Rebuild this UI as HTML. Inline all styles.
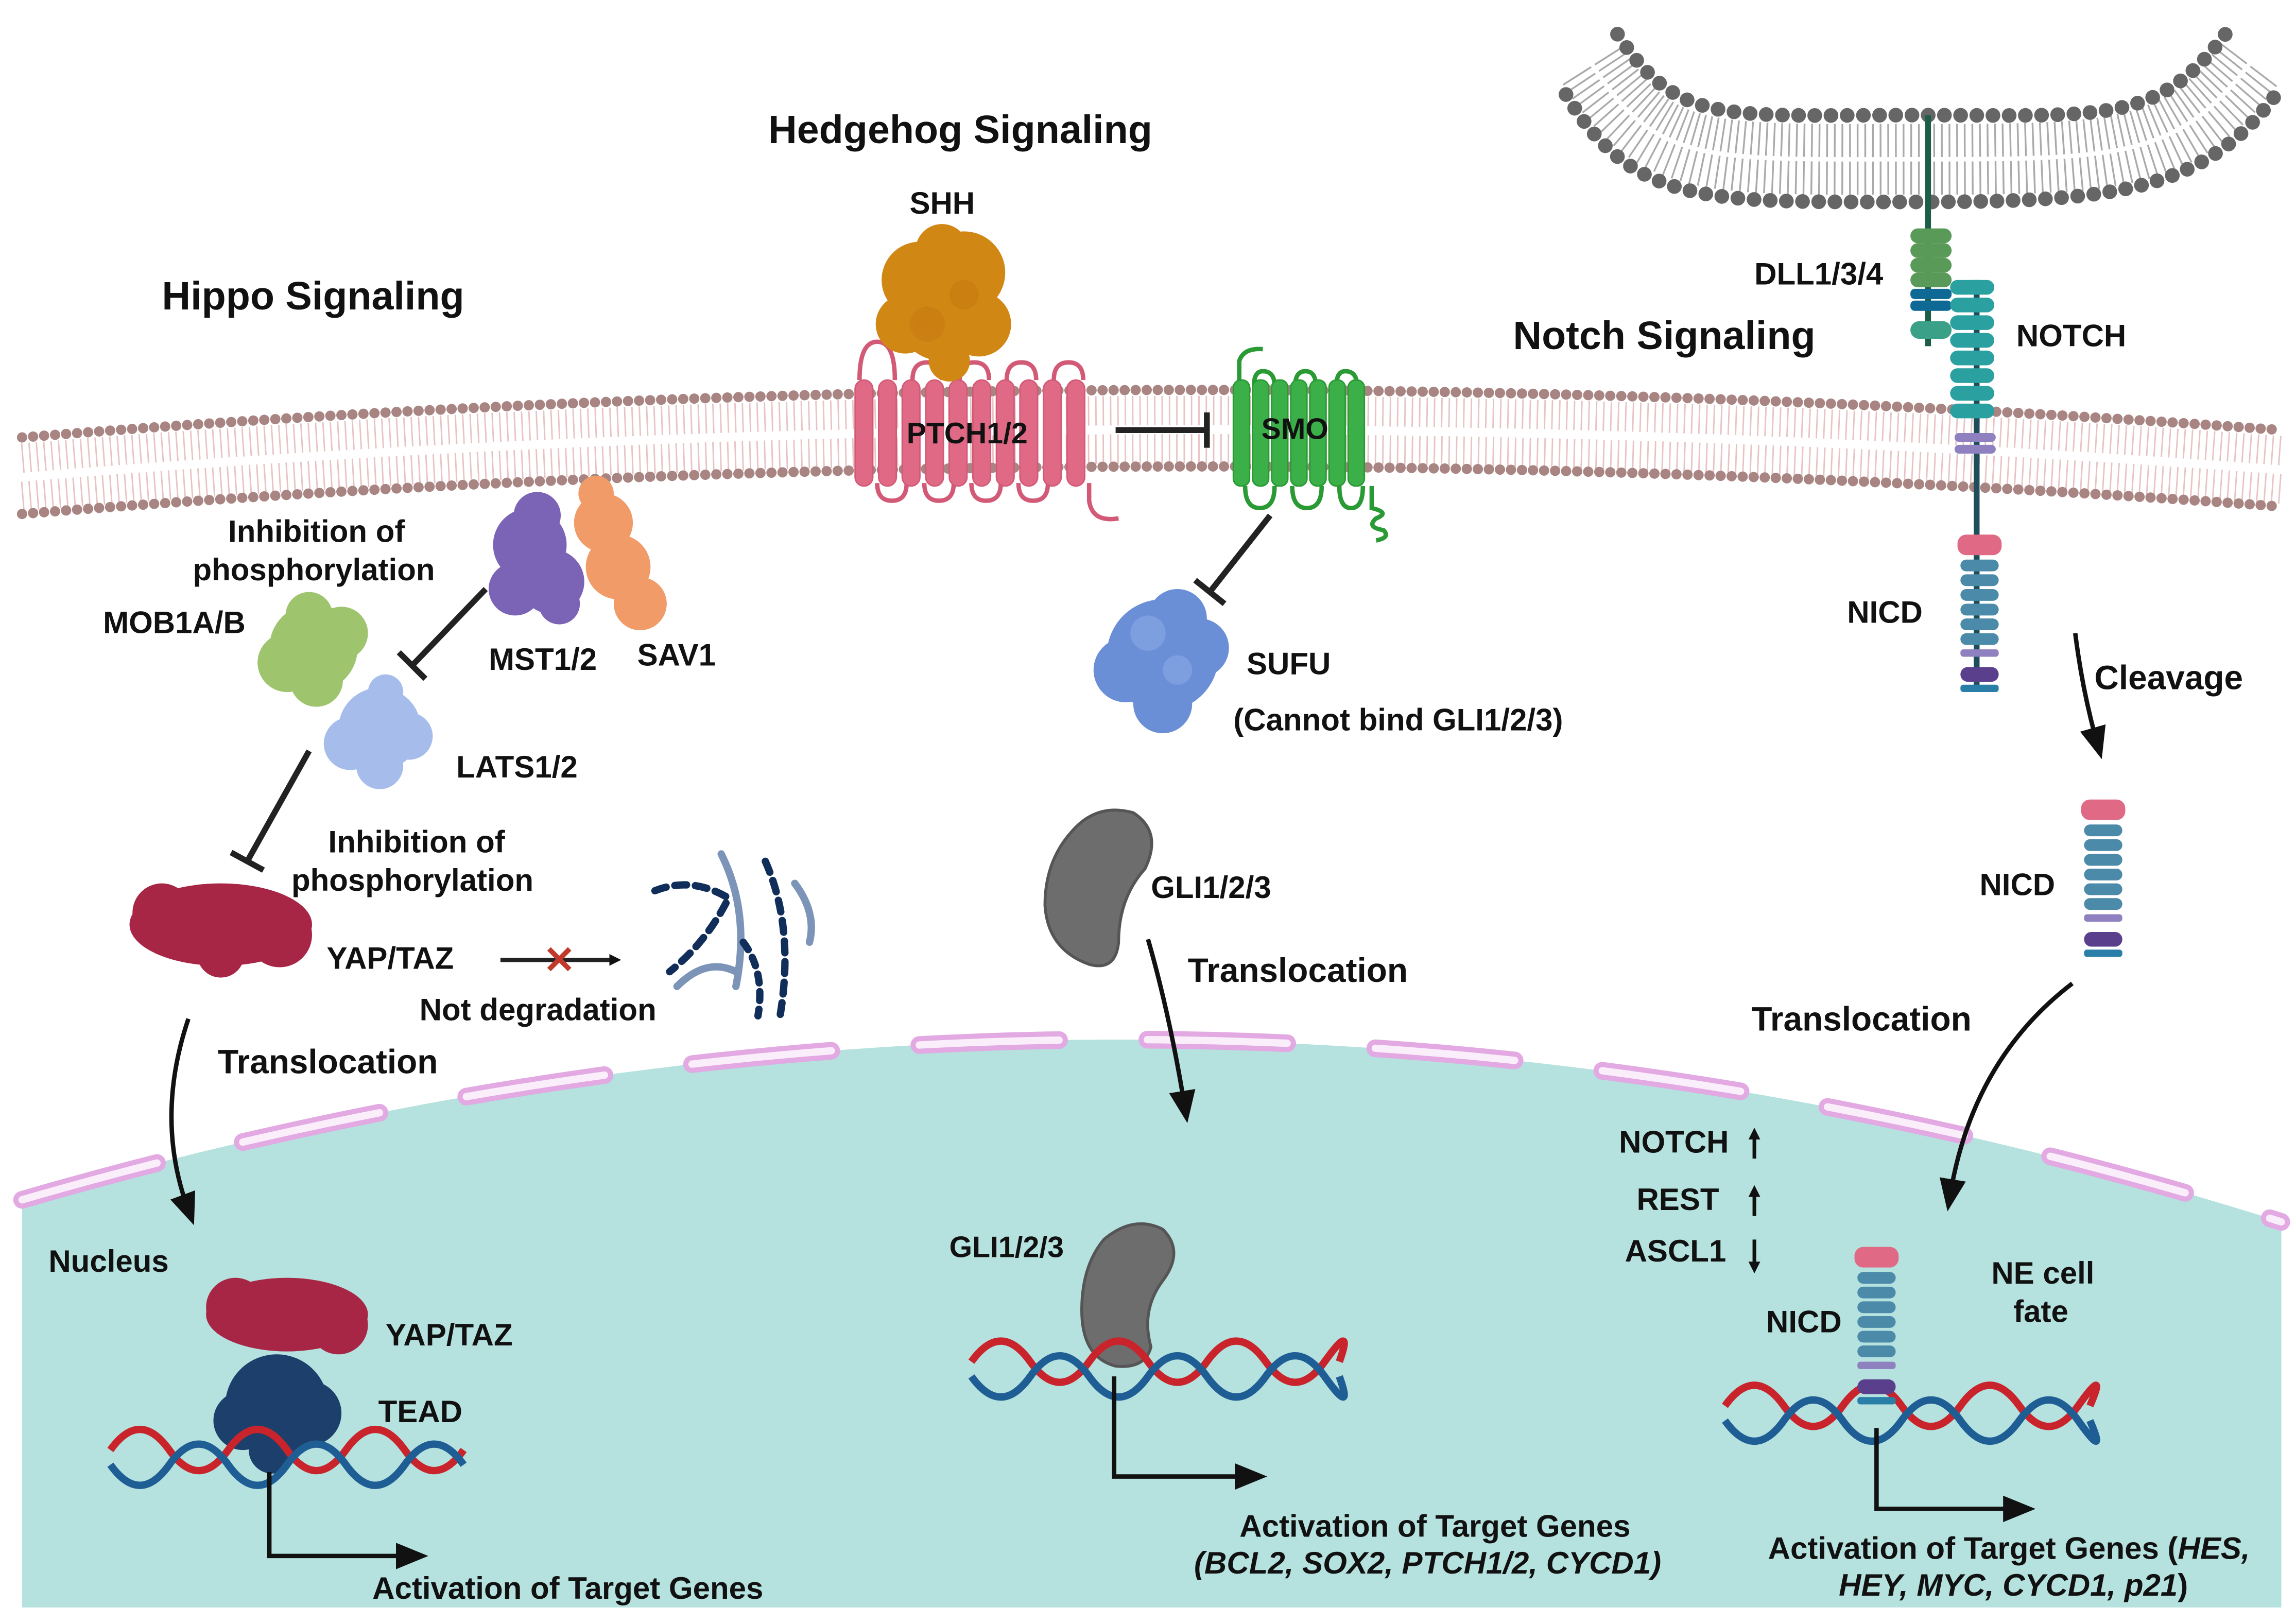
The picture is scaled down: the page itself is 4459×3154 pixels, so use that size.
<!DOCTYPE html>
<html><head><meta charset="utf-8"><style>
html,body{margin:0;padding:0;background:#fff}
svg{display:block}
text{font-family:"Liberation Sans",Arial,sans-serif;font-weight:bold;fill:#111}
</style></head><body>
<svg width="4459" height="3154" viewBox="0 0 1560 1103" xmlns="http://www.w3.org/2000/svg">
<defs>
<marker id="ah" markerWidth="8" markerHeight="8" refX="4" refY="4" orient="auto" markerUnits="userSpaceOnUse" viewBox="0 0 8 8"><path d="M0,0 L8,4 L0,8 z" fill="#111"/></marker>
<marker id="ah2" markerWidth="22" markerHeight="22" refX="11" refY="11" orient="auto" markerUnits="userSpaceOnUse" viewBox="0 0 22 22"><path d="M0,2 L22,11 L0,20 z" fill="#111"/></marker>
</defs>
<rect width="1560" height="1103" fill="#fff"/>

<path d="M15,815 Q790,590 1550,830 L1550,1092 L15,1092 Z" fill="#b5e1de"/>
<path d="M15,815 Q790,590 1550,830" fill="none" stroke="#e2a9e2" stroke-width="12" stroke-dasharray="95 60" stroke-linecap="round"/>
<path d="M15,815 Q790,590 1550,830" fill="none" stroke="#fbeefb" stroke-width="5" stroke-dasharray="95 60" stroke-linecap="round"/>

<g>
<path d="M15,311 Q780,249 1550,306" fill="none" stroke="#e8c3c3" stroke-width="20" stroke-dasharray="1 4"/>
<path d="M15,337 Q780,275 1550,332" fill="none" stroke="#e8c3c3" stroke-width="20" stroke-dasharray="1 4"/>
<path d="M15,297 Q780,235 1550,292" fill="none" stroke="#a88582" stroke-width="7" stroke-dasharray="0 7.5" stroke-linecap="round"/>
<path d="M15,349 Q780,287 1550,344" fill="none" stroke="#a88582" stroke-width="7" stroke-dasharray="0 7.5" stroke-linecap="round"/>
</g>

<g>
<path d="M1082,44 C1125,112 1160,108 1300,108 C1440,108 1480,108 1530,41" fill="none" stroke="#aaa" stroke-width="48" stroke-dasharray="1.2 4"/>
<path d="M1082,44 C1125,112 1160,108 1300,108 C1440,108 1480,108 1530,41" fill="none" stroke="#fff" stroke-width="3"/>
<path d="M1099,23 C1140,85 1170,78 1300,78 C1430,78 1465,85 1512,23" fill="none" stroke="#666" stroke-width="10" stroke-dasharray="0 11" stroke-linecap="round"/>
<path d="M1064,64 C1110,140 1160,137 1300,137 C1440,137 1500,130 1550,59" fill="none" stroke="#666" stroke-width="10" stroke-dasharray="0 11" stroke-linecap="round"/>
</g>

<text x="522" y="97" font-size="27">Hedgehog Signaling</text>
<text x="110" y="210" font-size="27">Hippo Signaling</text>
<text x="1028" y="237" font-size="27">Notch Signaling</text>

<g fill="#e06a85" stroke="#d35a77">
<path d="M584,258 Q584,232 596,232 Q608,232 608,258 M620,258 Q620,246 630,246 Q640,246 640,258 M652,258 Q652,246 662,246 Q672,246 672,258 M684,258 Q684,246 694,246 Q704,246 704,258 M716,258 Q716,246 726,246 Q736,246 736,258" fill="none" stroke-width="3"/>
<path d="M596,328 Q596,340 606,340 Q616,340 616,328 M628,328 Q628,340 638,340 Q648,340 648,328 M660,328 Q660,340 670,340 Q680,340 680,328 M692,328 Q692,340 702,340 Q712,340 712,328 M740,328 L740,340 Q742,355 760,352" fill="none" stroke-width="3"/>
<rect x="581" y="258" width="12" height="72" rx="6"/><rect x="597" y="258" width="12" height="72" rx="6"/>
<rect x="613" y="258" width="12" height="72" rx="6"/><rect x="629" y="258" width="12" height="72" rx="6"/>
<rect x="645" y="258" width="12" height="72" rx="6"/><rect x="661" y="258" width="12" height="72" rx="6"/>
<rect x="677" y="258" width="12" height="72" rx="6"/><rect x="693" y="258" width="12" height="72" rx="6"/>
<rect x="709" y="258" width="12" height="72" rx="6"/><rect x="725" y="258" width="12" height="72" rx="6"/>
</g>
<g fill="#d08714">
<circle cx="625" cy="190" r="26"/><circle cx="655" cy="185" r="28"/><circle cx="640" cy="215" r="30"/><circle cx="615" cy="220" r="20"/><circle cx="665" cy="220" r="22"/><circle cx="640" cy="170" r="18"/><circle cx="645" cy="245" r="14"/>
</g>
<g fill="#c97a10" opacity=".6"><circle cx="630" cy="220" r="12"/><circle cx="655" cy="200" r="10"/></g>
<text x="618" y="145" font-size="21">SHH</text>
<text x="616" y="301" font-size="20">PTCH1/2</text>

<line x1="758" y1="292" x2="820" y2="292" stroke="#222" stroke-width="4"/>
<line x1="820" y1="280" x2="820" y2="304" stroke="#222" stroke-width="4"/>

<g fill="#3bb048" stroke="#2a9a35">
<path d="M842,260 L842,245 Q845,236 858,237 M852,262 Q852,252 858,252 Q866,252 866,262 M880,262 Q880,252 887,252 Q894,252 894,262 M908,262 Q908,252 914,252 Q922,252 922,262" fill="none" stroke-width="3"/>
<path d="M846,330 Q846,345 856,345 Q866,345 866,330 M878,330 Q878,345 888,345 Q898,345 898,330 M910,330 Q910,345 918,345 Q926,345 926,330 M932,330 L932,345 Q945,348 935,352 Q928,358 940,360 Q945,365 935,367" fill="none" stroke-width="3"/>
<rect x="838" y="258" width="11" height="72" rx="5"/><rect x="851" y="258" width="11" height="72" rx="5"/>
<rect x="864" y="258" width="11" height="72" rx="5"/><rect x="877" y="258" width="11" height="72" rx="5"/>
<rect x="890" y="258" width="11" height="72" rx="5"/><rect x="903" y="258" width="11" height="72" rx="5"/>
<rect x="916" y="258" width="11" height="72" rx="5"/>
</g>
<text x="857" y="298" font-size="20">SMO</text>

<line x1="863" y1="350" x2="822" y2="402" stroke="#222" stroke-width="4"/>
<line x1="812" y1="394" x2="832" y2="410" stroke="#222" stroke-width="4"/>

<g fill="#6a8fd6">
<circle cx="790" cy="445" r="38"/><circle cx="765" cy="455" r="22"/><circle cx="815" cy="440" r="20"/><circle cx="790" cy="478" r="20"/><circle cx="800" cy="420" r="20"/>
</g>
<g fill="#8aa8e4" opacity=".6"><circle cx="780" cy="430" r="12"/><circle cx="800" cy="455" r="10"/></g>
<text x="847" y="458" font-size="21">SUFU</text>
<text x="838" y="496" font-size="21">(Cannot bind GLI1/2/3)</text>

<path d="M728,565 Q745,545 770,552 Q790,565 778,590 Q760,610 760,640 Q758,660 740,655 Q712,645 710,615 Q710,585 728,565 Z" fill="#6d6d6d" stroke="#555" stroke-width="2"/>
<text x="782" y="610" font-size="21">GLI1/2/3</text>
<text x="807" y="667" font-size="23">Translocation</text>
<path d="M780,638 Q795,690 805,752" fill="none" stroke="#111" stroke-width="3" marker-end="url(#ah2)"/>

<path d="M750,842 Q770,825 790,835 Q805,850 790,870 Q775,890 782,915 Q778,930 758,928 Q735,922 735,890 Q735,860 750,842 Z" fill="#6d6d6d" stroke="#555" stroke-width="2"/>
<text x="645" y="854" font-size="20">GLI1/2/3</text>
<path d="M660,925 q20,-28 40,0 t40,0 t40,0 t40,0 t40,0 t40,0 t10,0" fill="none" stroke="#c9242b" stroke-width="5"/>
<path d="M660,935 q20,28 40,0 t40,0 t40,0 t40,0 t40,0 t40,0 t10,0" fill="none" stroke="#1f5d95" stroke-width="5"/>
<path d="M757,935 L757,1003 L850,1003" fill="none" stroke="#111" stroke-width="3" marker-end="url(#ah2)"/>
<text x="975" y="1044" font-size="21" text-anchor="middle">Activation of Target Genes</text>
<text x="970" y="1069" font-size="21" text-anchor="middle" font-style="italic">(BCL2, SOX2, PTCH1/2, CYCD1)</text>

<g fill="#7b63b6"><circle cx="360" cy="370" r="25"/><circle cx="375" cy="395" r="22"/><circle cx="350" cy="400" r="18"/><circle cx="365" cy="350" r="16"/><circle cx="380" cy="410" r="14"/></g>
<g fill="#f19b69"><circle cx="410" cy="355" r="20"/><circle cx="420" cy="385" r="22"/><circle cx="435" cy="410" r="18"/><circle cx="405" cy="335" r="12"/></g>
<text x="155" y="368" font-size="21">Inhibition of</text>
<text x="131" y="394" font-size="21">phosphorylation</text>
<text x="332" y="455" font-size="21">MST1/2</text>
<text x="433" y="452" font-size="21">SAV1</text>
<g fill="#9fc46e"><circle cx="213" cy="440" r="30"/><circle cx="195" cy="450" r="20"/><circle cx="232" cy="430" r="18"/><circle cx="215" cy="462" r="18"/><circle cx="210" cy="418" r="16"/></g>
<text x="70" y="430" font-size="21">MOB1A/B</text>
<g fill="#a6bdec"><circle cx="258" cy="495" r="28"/><circle cx="238" cy="505" r="18"/><circle cx="278" cy="500" r="16"/><circle cx="258" cy="520" r="16"/><circle cx="262" cy="470" r="12"/></g>
<text x="310" y="528" font-size="21">LATS1/2</text>
<line x1="330" y1="400" x2="280" y2="452" stroke="#222" stroke-width="4"/>
<line x1="271" y1="443" x2="289" y2="461" stroke="#222" stroke-width="4"/>
<line x1="210" y1="510" x2="168" y2="585" stroke="#222" stroke-width="4"/>
<line x1="157" y1="579" x2="179" y2="591" stroke="#222" stroke-width="4"/>
<text x="223" y="579" font-size="21">Inhibition of</text>
<text x="198" y="605" font-size="21">phosphorylation</text>
<g fill="#a72646"><ellipse cx="150" cy="628" rx="62" ry="28"/><circle cx="110" cy="620" r="20"/><circle cx="190" cy="635" r="22"/><circle cx="150" cy="648" r="16"/></g>
<text x="222" y="658" font-size="21">YAP/TAZ</text>
<line x1="340" y1="652" x2="418" y2="652" stroke="#222" stroke-width="3" marker-end="url(#ah)"/>
<text x="380" y="661" font-size="26" fill="#c0392b" style="fill:#c0392b" text-anchor="middle">✕</text>
<text x="285" y="693" font-size="21">Not degradation</text>
<g fill="none" stroke-width="5" stroke-linecap="round">
<path d="M445,605 Q470,595 495,610 Q480,640 455,660" stroke="#112e5a" stroke-dasharray="8 6"/>
<path d="M490,580 Q510,620 500,670" stroke="#7b94b8"/>
<path d="M520,585 Q540,630 530,690" stroke="#112e5a" stroke-dasharray="8 6"/>
<path d="M460,670 Q480,650 500,660" stroke="#7b94b8"/>
<path d="M540,600 Q555,620 550,640" stroke="#7b94b8"/>
<path d="M505,640 Q520,660 515,690" stroke="#112e5a" stroke-dasharray="6 6"/>
</g>
<text x="148" y="729" font-size="23">Translocation</text>
<path d="M128,692 Q105,760 128,822" fill="none" stroke="#111" stroke-width="3" marker-end="url(#ah2)"/>
<text x="33" y="864" font-size="21">Nucleus</text>
<g fill="#a72646"><ellipse cx="195" cy="893" rx="55" ry="25"/><circle cx="160" cy="888" r="20"/><circle cx="230" cy="900" r="20"/></g>
<g fill="#1d3f6b"><circle cx="188" cy="955" r="35"/><circle cx="165" cy="965" r="20"/><circle cx="210" cy="960" r="22"/><circle cx="185" cy="985" r="16"/></g>
<text x="262" y="914" font-size="21">YAP/TAZ</text>
<text x="257" y="966" font-size="21">TEAD</text>
<path d="M75,985 q20,-28 40,0 t40,0 t40,0 t40,0 t40,0 t40,0" fill="none" stroke="#c9242b" stroke-width="5"/>
<path d="M75,995 q20,28 40,0 t40,0 t40,0 t40,0 t40,0 t40,0" fill="none" stroke="#1f5d95" stroke-width="5"/>
<path d="M183,1000 L183,1057 L280,1057" fill="none" stroke="#111" stroke-width="3" marker-end="url(#ah2)"/>
<text x="253" y="1086" font-size="21">Activation of Target Genes</text>

<line x1="1310" y1="78" x2="1310" y2="235" stroke="#1e5e48" stroke-width="4"/>
<g fill="#5a9a58"><rect x="1298" y="155" width="28" height="10" rx="5"/><rect x="1298" y="165" width="28" height="10" rx="5"/><rect x="1298" y="175" width="28" height="10" rx="5"/><rect x="1298" y="185" width="28" height="10" rx="5"/></g>
<rect x="1298" y="196" width="28" height="7" rx="3" fill="#0e6a95"/><rect x="1298" y="204" width="28" height="7" rx="3" fill="#0e6a95"/>
<rect x="1298" y="218" width="28" height="12" rx="6" fill="#3aa088"/>
<line x1="1343" y1="190" x2="1343" y2="470" stroke="#1d4e5a" stroke-width="4"/>
<g fill="#2aa0a0">
<rect x="1325" y="190" width="30" height="10" rx="5"/><rect x="1325" y="202" width="30" height="10" rx="5"/><rect x="1325" y="214" width="30" height="10" rx="5"/><rect x="1325" y="226" width="30" height="10" rx="5"/><rect x="1325" y="238" width="30" height="10" rx="5"/><rect x="1325" y="250" width="30" height="10" rx="5"/><rect x="1325" y="262" width="30" height="10" rx="5"/><rect x="1325" y="274" width="30" height="10" rx="5"/>
</g>
<g fill="#8f80c0"><rect x="1328" y="294" width="28" height="6" rx="3"/><rect x="1328" y="302" width="28" height="6" rx="3"/></g>
<text x="1192" y="193" font-size="21">DLL1/3/4</text>
<text x="1370" y="235" font-size="21">NOTCH</text>
<g id="nicd">
<rect x="1330" y="363" width="30" height="14" rx="6" fill="#e06a85"/>
<g fill="#4b8aa8"><rect x="1332" y="380" width="26" height="8" rx="4"/><rect x="1332" y="390" width="26" height="8" rx="4"/><rect x="1332" y="400" width="26" height="8" rx="4"/><rect x="1332" y="410" width="26" height="8" rx="4"/><rect x="1332" y="420" width="26" height="8" rx="4"/><rect x="1332" y="430" width="26" height="8" rx="4"/></g>
<rect x="1332" y="441" width="26" height="5" rx="2" fill="#8f80c0"/>
<rect x="1332" y="453" width="26" height="10" rx="5" fill="#5a3f8c"/>
<rect x="1332" y="465" width="26" height="5" rx="2" fill="#2a7fa8"/>
</g>
<text x="1255" y="423" font-size="21">NICD</text>
<path d="M1410,430 Q1415,470 1425,505" fill="none" stroke="#111" stroke-width="3" marker-end="url(#ah2)"/>
<text x="1423" y="468" font-size="23">Cleavage</text>
<use href="#nicd" transform="translate(84,180)"/>
<text x="1345" y="608" font-size="21">NICD</text>
<text x="1190" y="700" font-size="23">Translocation</text>
<path d="M1408,668 Q1340,720 1325,812" fill="none" stroke="#111" stroke-width="3" marker-end="url(#ah2)"/>
<text x="1100" y="783" font-size="21">NOTCH</text>
<text x="1112" y="822" font-size="21">REST</text>
<text x="1104" y="857" font-size="21">ASCL1</text>
<line x1="1192" y1="787" x2="1192" y2="770" stroke="#111" stroke-width="2.5" marker-end="url(#ah)"/>
<line x1="1192" y1="826" x2="1192" y2="809" stroke="#111" stroke-width="2.5" marker-end="url(#ah)"/>
<line x1="1192" y1="842" x2="1192" y2="861" stroke="#111" stroke-width="2.5" marker-end="url(#ah)"/>
<path d="M1172,955 q20,-28 40,0 t40,0 t40,0 t40,0 t40,0 t40,0 t8,0" fill="none" stroke="#c9242b" stroke-width="5"/>
<path d="M1172,965 q20,28 40,0 t40,0 t40,0 t40,0 t40,0 t40,0 t8,0" fill="none" stroke="#1f5d95" stroke-width="5"/>
<use href="#nicd" transform="translate(-70,484)"/>
<text x="1200" y="905" font-size="21">NICD</text>
<text x="1353" y="872" font-size="21">NE cell</text>
<text x="1368" y="898" font-size="21">fate</text>
<path d="M1275,970 L1275,1025 L1372,1025" fill="none" stroke="#111" stroke-width="3" marker-end="url(#ah2)"/>
<text x="1365" y="1059" font-size="21" text-anchor="middle">Activation of Target Genes (<tspan font-style="italic">HES,</tspan></text>
<text x="1368" y="1084" font-size="21" text-anchor="middle" font-style="italic">HEY, MYC, CYCD1, p21<tspan font-style="normal">)</tspan></text>
</svg>
</body></html>
